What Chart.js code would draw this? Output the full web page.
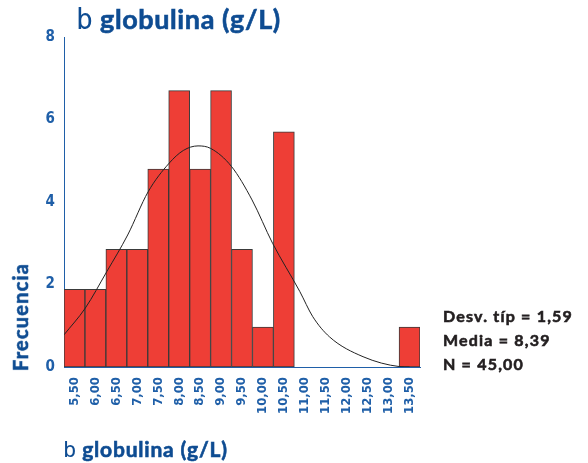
<!DOCTYPE html>
<html>
<head>
<meta charset="utf-8">
<script src="https://cdn.jsdelivr.net/npm/chart.js@4/dist/chart.umd.min.js"></script>
<style>
  html, body { margin: 0; padding: 0; background: #ffffff; }
  #wrap { position: relative; width: 588px; height: 463px; overflow: hidden; }
  #chart { position: absolute; left: 0; top: 0; }
  .txt { position: absolute; white-space: nowrap; color: #0e4c92; font-family: Lato, 'Open Sans', sans-serif;
         font-weight: bold; -webkit-text-stroke: 0.6px currentColor; }
  .beta { font-family: 'DejaVu Sans Mono', monospace; font-weight: normal; -webkit-text-stroke: 0; }
</style>
</head>
<body>
<div id="wrap">
  <canvas id="chart" width="588" height="463"></canvas>
  <div class="txt" style="left:76px; top:2px; font-size:27px; letter-spacing:0.6px;"><span class="beta" style="font-size:28px; letter-spacing:0;">b</span> globulina (g/L)</div>
  <div class="txt" style="left:-34px; top:305px; font-size:20px; letter-spacing:1.2px; transform: rotate(-90deg); transform-origin: center;">Frecuencia</div>
  <div class="txt" style="left:63px; top:436px; font-size:21px; letter-spacing:0.8px;"><span class="beta" style="font-size:22px; letter-spacing:0;">b</span> globulina (g/L)</div>
  <div class="txt" style="left:443px; top:304px; font-size:16px; line-height:24px; letter-spacing:1.2px; color:#231f20;">Desv. típ = 1,59<br>Media = 8,39<br>N = 45,00</div>
</div>
<script>
// histogram bins (bin centres) and tick labels
const binCenters = [5.5, 6.0, 6.5, 7.0, 7.5, 8.0, 8.5, 9.0, 9.5, 10.0, 10.5, 11.0, 11.5, 12.0, 12.5, 13.0, 13.5];
const xTickLabels = ['5,50', '6,00', '6,50', '7,00', '7,50', '8,00', '8,50', '9,00', '9,50', '10,00',
  '10,50', '11,00', '11,50', '12,00', '12,50', '13,00', '13,50'];
// bar heights as read against the printed frequency axis
const frequencies = [1.88, 1.88, 2.85, 2.85, 4.8, 6.7, 4.8, 6.7, 2.85, 0.97, 5.7, 0, 0, 0, 0, 0, 0.97];
// normal curve, points
const curveX = [5.25, 5.76, 6.27, 6.77, 7.26, 7.76, 8.1, 8.45, 8.75, 9.25, 9.74, 10.23, 10.88, 11.19, 11.59, 12.39, 13.26, 13.5];
const curveY = [0.78, 1.43, 2.31, 3.2, 4.25, 4.94, 5.25, 5.36, 5.3, 4.86, 4.05, 3.0, 1.83, 1.22, 0.73, 0.25, 0.01, 0.0];
const yTicks = [0, 2, 4, 6, 8];

const blue = '#1f5fa8';
const narrow = "'Liberation Sans Narrow', 'DejaVu Sans Condensed', sans-serif";

const barData = binCenters.map((x, i) => ({ x: x, y: frequencies[i] }));
const curveData = curveX.map((x, i) => ({ x: x, y: curveY[i] }));

new Chart(document.getElementById('chart'), {
  type: 'bar',
  data: {
    datasets: [
      {
        type: 'line',
        data: curveData,
        borderColor: '#222222',
        borderWidth: 1,
        pointRadius: 0,
        cubicInterpolationMode: 'monotone',
        fill: false,
        order: 0
      },
      {
        type: 'bar',
        data: barData,
        backgroundColor: '#ee3e36',
        borderColor: '#3a3a3a',
        borderWidth: 1,
        borderSkipped: false,
        barPercentage: 1,
        categoryPercentage: 1,
        order: 1
      }
    ]
  },
  options: {
    responsive: false,
    animation: false,
    layout: { padding: { left: 0, top: 37, right: 168, bottom: 0 } },
    plugins: { legend: { display: false }, tooltip: { enabled: false }, title: { display: false } },
    scales: {
      x: {
        type: 'linear',
        min: 5.25,
        max: 13.75,
        offset: false,
        grid: { display: false, drawTicks: false },
        border: { display: true, color: blue, width: 1 },
        afterBuildTicks: scale => { scale.ticks = binCenters.map(v => ({ value: v })); },
        afterFit: scale => { scale.height = 96; },
        ticks: {
          autoSkip: false,
          minRotation: 90,
          maxRotation: 90,
          padding: 10,
          color: blue,
          font: { family: narrow, size: 13, weight: 'bold' },
          callback: (value, index) => xTickLabels[index]
        }
      },
      y: {
        min: 0,
        max: 8,
        grid: { display: false, drawTicks: false },
        border: { display: true, color: blue, width: 1 },
        afterBuildTicks: scale => { scale.ticks = yTicks.map(v => ({ value: v })); },
        afterFit: scale => { scale.width = 64; },
        ticks: {
          padding: 9,
          color: blue,
          font: { family: narrow, size: 15, weight: 'bold' }
        }
      }
    }
  }
});
</script>
</body>
</html>
